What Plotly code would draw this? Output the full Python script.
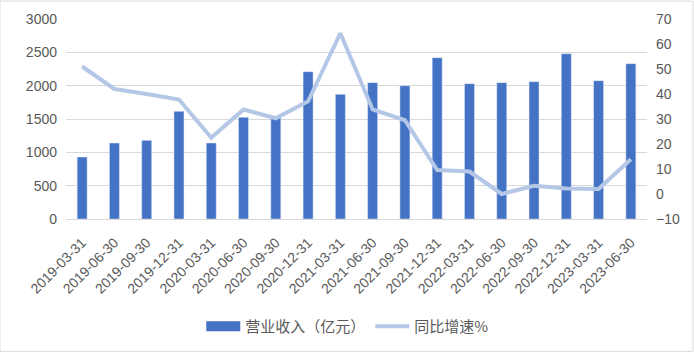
import plotly.graph_objects as go

dates = ["2019-03-31","2019-06-30","2019-09-30","2019-12-31","2020-03-31","2020-06-30",
         "2020-09-30","2020-12-31","2021-03-31","2021-06-30","2021-09-30","2021-12-31",
         "2022-03-31","2022-06-30","2022-09-30","2022-12-31","2023-03-31","2023-06-30"]
revenue = [930, 1140, 1180, 1615, 1140, 1525, 1520, 2210, 1870, 2045, 2000, 2420,
           2030, 2045, 2060, 2480, 2075, 2330]
growth = [51.0, 42.0, 40.0, 37.8, 22.5, 33.8, 30.3, 37.1, 64.3, 33.8, 29.5, 9.6,
          9.0, 0.0, 3.3, 2.2, 2.0, 13.9]

grey = "#595959"
bar_color = "#4472c4"
line_color = "#b4c7e7"
font_main = "Liberation Sans, Noto Sans CJK SC, sans-serif"

fig = go.Figure()
fig.add_trace(go.Bar(x=dates, y=revenue, name="营业收入（亿元）", marker_color=bar_color,
                     yaxis="y", showlegend=False, legendgroup="rev"))
# legend entry drawn as a wide rectangle (thick line) like the original
fig.add_trace(go.Scatter(x=[dates[0]], y=[None], name="营业收入（亿元）", mode="lines",
                         line=dict(color=bar_color, width=10), legendgroup="rev",
                         hoverinfo="skip"))
fig.add_trace(go.Scatter(x=dates, y=growth, name="同比增速%", mode="lines",
                         line=dict(color=line_color, width=4), yaxis="y2"))

fig.update_layout(
    width=694, height=354,
    margin=dict(l=66, r=47, t=19, b=134),
    paper_bgcolor="white", plot_bgcolor="white",
    font=dict(family=font_main, size=14, color=grey),
    bargap=0.69,
    showlegend=True,
    legend=dict(orientation="h", x=0.485, xanchor="center", y=-0.53, yanchor="middle",
                font=dict(size=15, color=grey, family="Noto Sans CJK SC, sans-serif"),
                tracegroupgap=0, itemwidth=34),
    xaxis=dict(type="category", tickangle=-45, showgrid=False, ticks="",
               showline=True, linecolor="#d9d9d9", linewidth=1,
               ticklabelstandoff=9,
               tickfont=dict(size=14, color=grey)),
    yaxis=dict(range=[0, 3000], dtick=500, showgrid=True, gridcolor="#d9d9d9",
               zeroline=False, ticks="", ticklabelstandoff=8,
               tickfont=dict(size=14, color=grey)),
    yaxis2=dict(range=[-10, 70], dtick=10, overlaying="y", side="right",
                showgrid=False, zeroline=False, ticks="", ticklabelstandoff=8,
                tickfont=dict(size=14, color=grey)),
    shapes=[dict(type="rect", xref="paper", yref="paper",
                 x0=-66/581, x1=1+46/581, y0=-133/201, y1=1+18/201,
                 line=dict(color="#d9d9d9", width=1))],
)

fig.write_html("out.html")
